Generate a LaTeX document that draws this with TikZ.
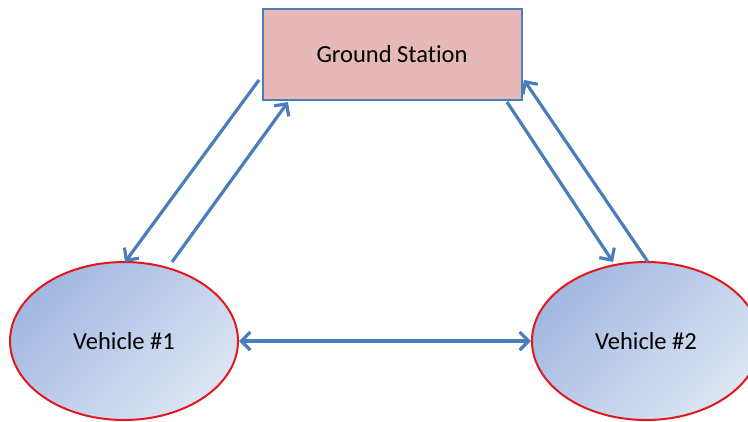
\documentclass[tikz,border=0pt]{standalone}
\usepackage{fontspec}
\setmainfont[Ligatures=NoCommon]{Carlito}
\usetikzlibrary{arrows.meta,shapes.geometric}
\definecolor{linkblue}{HTML}{4A7EBB}
\definecolor{gsfill}{HTML}{E6B9B8}
\definecolor{vdark}{HTML}{A2B8E1}
\definecolor{vlight}{HTML}{DCE5F4}
\definecolor{vred}{HTML}{E3171C}
\tikzset{
  station/.style={draw=linkblue, line width=2pt, fill=gsfill, minimum width=259pt, minimum height=91pt, inner sep=0pt, font=\fontsize{24.5}{28}\selectfont},
  vehicle/.style={ellipse, draw=vred, line width=2pt, left color=vdark, right color=vlight, shading angle=45, minimum width=228pt, minimum height=158pt, inner sep=0pt, font=\fontsize{24.5}{28}\selectfont},
  link/.style={draw=linkblue, line width=3.2pt, -{Straight Barb[length=9pt,width=18pt,line width=3.2pt]}},
  dlink/.style={draw=linkblue, line width=3.2pt, {Straight Barb[length=9pt,width=18pt,line width=3.2pt]}-{Straight Barb[length=9pt,width=18pt,line width=3.2pt]}}
}
\begin{document}
\begin{tikzpicture}[x=1pt,y=-1pt]
\useasboundingbox (0,0) rectangle (748,421);
\node[station] (gs) at (392,54.5) {Ground Station};
\node[vehicle] (v1) at (124,341) {Vehicle \#1};
\node[vehicle] (v2) at (646,341) {Vehicle \#2};
\coordinate (a1) at (259,80);
\coordinate (a2) at (125,262);
\coordinate (b1) at (172,262);
\coordinate (b2) at (288,102);
\coordinate (c1) at (507,102);
\coordinate (c2) at (613,262);
\coordinate (d1) at (648,262);
\coordinate (d2) at (524,80);
\draw[link] (a1) -- (a2);
\draw[link] (b1) -- (b2);
\draw[link] (c1) -- (c2);
\draw[link] (d1) -- (d2);
\draw[dlink] (v1.east) -- (v2.west);
\end{tikzpicture}
\end{document}
